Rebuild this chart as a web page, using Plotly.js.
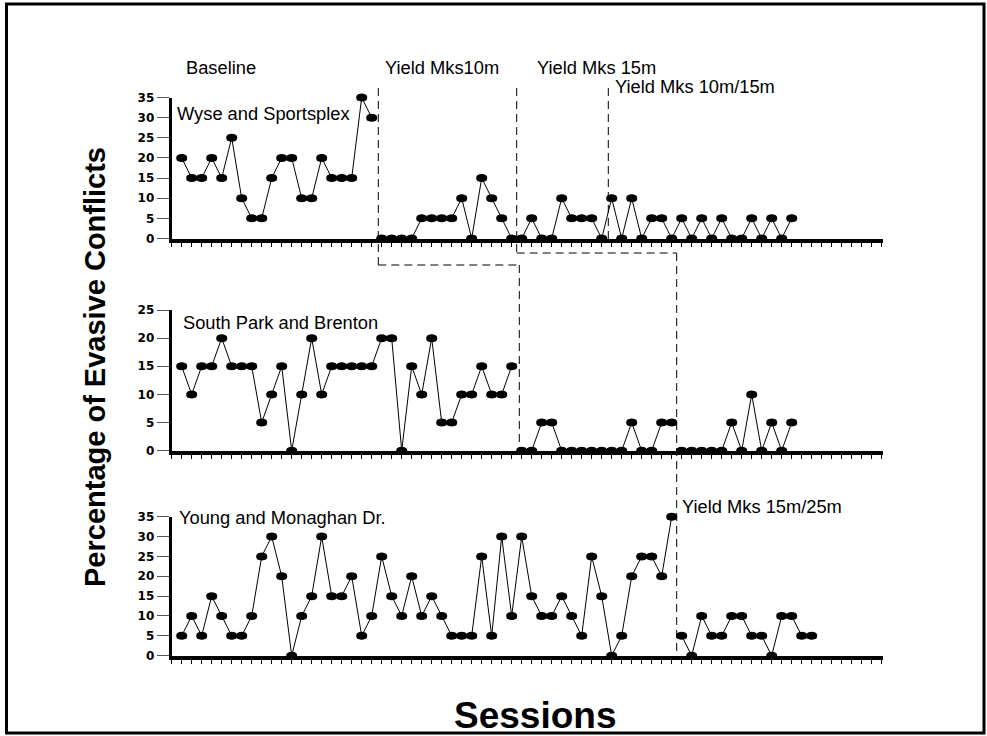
<!DOCTYPE html>
<html><head><meta charset="utf-8">
<script src="https://cdn.plot.ly/plotly-3.0.1.min.js"></script>
<style>html,body{margin:0;padding:0;background:#fff}#chart{width:987px;height:736px}</style>
</head><body><div id="chart"></div>
<script>
// ---- data (percentage of evasive conflicts per session) ----
const wyseValues = [20,15,15,20,15,25,10,5,5,15,20,20,10,10,20,15,15,15,35,30,
  0,0,0,0,5,5,5,5,10,0,15,10,5,0,
  0,5,0,0,10,5,5,5,0,10,0,10,0,5,5,0,5,0,5,0,5,0,0,5,0,5,0,5];
const wyseSegmentStarts = [1, 21, 35];
const southParkValues = [15,10,15,15,20,15,15,15,5,10,15,0,10,20,10,15,15,15,15,15,20,20,0,15,10,20,5,5,10,10,15,10,10,15,
  0,0,5,5,0,0,0,0,0,0,0,5,0,0,5,5,
  0,0,0,0,0,5,0,10,0,5,0,5];
const southParkSegmentStarts = [1, 35, 51];
const youngValues = [5,10,5,15,10,5,5,10,25,30,20,0,10,15,30,15,15,20,5,10,25,15,10,20,10,15,10,5,5,5,25,5,30,10,30,15,10,10,15,10,5,25,15,0,5,20,25,25,20,35,
  5,0,10,5,5,10,10,5,5,0,10,10,5,5];
const youngSegmentStarts = [1, 51];
const panelNames = ["Wyse and Sportsplex", "South Park and Brenton", "Young and Monaghan Dr."];
const phaseNames = ["Baseline", "Yield Mks10m", "Yield Mks 15m", "Yield Mks 10m/15m", "Yield Mks 15m/25m"];
const yMax = [35, 25, 35];
const xTitle = "Sessions";
const yTitle = "Percentage of Evasive Conflicts";

// ---- build traces ----
const W = 987, H = 736;
const px = v => v / W, py = v => 1 - v / H;
const panels = [
  {vals: wyseValues, starts: wyseSegmentStarts, ax: ''},
  {vals: southParkValues, starts: southParkSegmentStarts, ax: '2'},
  {vals: youngValues, starts: youngSegmentStarts, ax: '3'}
];
const traces = [];
const markerTraces = [];
panels.forEach(p => {
  const starts = p.starts.concat([p.vals.length + 1]);
  for (let s = 0; s < starts.length - 1; s++) {
    const xs = [], ys = [];
    for (let n = starts[s]; n < starts[s + 1]; n++) { xs.push(n); ys.push(p.vals[n - 1]); }
    traces.push({x: xs, y: ys, xaxis: 'x' + p.ax, yaxis: 'y' + p.ax, mode: 'lines',
      line: {color: '#000', width: 1}, cliponaxis: false, hoverinfo: 'skip', showlegend: false});
    [-0.2, 0, 0.2].forEach(d => {
      markerTraces.push({x: xs.map(v => v + d), y: ys, xaxis: 'x' + p.ax, yaxis: 'y' + p.ax, mode: 'markers',
        marker: {color: '#000', size: d === 0 ? 8 : 7, symbol: 'circle', line: {width: 0}}, cliponaxis: false,
        hoverinfo: 'skip', showlegend: false});
    });
  }
});

const xDomain = [px(171.7), px(883.3)];
const yDomains = [[py(238.5), py(97.5)], [py(450.7), py(310)], [py(655.7), py(516.7)]];
const layout = {
  width: W, height: H, margin: {l: 0, r: 0, t: 0, b: 0},
  paper_bgcolor: '#fff', plot_bgcolor: 'rgba(0,0,0,0)',
  font: {family: 'Liberation Sans, Arial, sans-serif', color: '#000'},
  showlegend: false, shapes: [], annotations: []
};
['', '2', '3'].forEach((a, i) => {
  layout['xaxis' + a] = {domain: xDomain, range: [0, 71.16], anchor: 'y' + a,
    showline: true, linewidth: 4, linecolor: '#000', ticks: 'outside', ticklen: 4, tickwidth: 1,
    tickcolor: '#000', tick0: 0, dtick: 1, showticklabels: false, showgrid: false, zeroline: false, fixedrange: true};
  layout['yaxis' + a] = {domain: yDomains[i], range: [0, yMax[i]], anchor: 'x' + a,
    showline: true, linewidth: 3, linecolor: '#000', ticks: 'outside', ticklen: 12, tickwidth: 1,
    tickcolor: '#555', tick0: 0, dtick: 5, showgrid: false, zeroline: false, fixedrange: true,
    tickfont: {family: 'DejaVu Sans, sans-serif', size: 12, weight: 'bold', color: '#000'}};
});

// phase-change dashed lines
const dash = {color: '#000', width: 1, dash: '8px,5px'};
const seg = (x0, y0, x1, y1) => ({type: 'line', xref: 'x', yref: 'paper', x0, y0: py(y0), x1, y1: py(y1), line: dash});
layout.shapes.push(
  seg(20.66, 88, 20.66, 265), seg(20.66, 265, 34.76, 265), seg(34.76, 265, 34.76, 451),
  seg(34.5, 88, 34.5, 253), seg(34.5, 253, 50.5, 253), seg(50.5, 253, 50.5, 656),
  seg(43.66, 88, 43.66, 239)
);
// outer frame
layout.shapes.push({type: 'rect', xref: 'paper', yref: 'paper', x0: px(6.5), x1: px(984), y0: py(733), y1: py(4),
  line: {color: '#000', width: 3}, fillcolor: 'rgba(0,0,0,0)'});

const note = (text, x, y, size) => ({text, xref: 'paper', yref: 'paper', x: px(x), y: py(y),
  xanchor: 'left', yanchor: 'middle', showarrow: false, font: {size: size || 18.3, color: '#000'}});
layout.annotations.push(
  note(phaseNames[0], 184, 67), note(phaseNames[1], 383, 67), note(phaseNames[2], 535, 67),
  note(phaseNames[3], 613, 86), note(phaseNames[4], 680, 506),
  note(panelNames[0], 175, 114), note(panelNames[1], 181, 322), note(panelNames[2], 177, 517),
  {text: '<b>' + yTitle + '</b>', xref: 'paper', yref: 'paper', x: px(95), y: py(367), textangle: -90,
    showarrow: false, xanchor: 'center', yanchor: 'middle', font: {size: 29, color: '#000'}},
  {text: '<b>' + xTitle + '</b>', xref: 'paper', yref: 'paper', x: px(535), y: py(715),
    showarrow: false, xanchor: 'center', yanchor: 'middle', font: {size: 37, color: '#000'}}
);

Plotly.newPlot('chart', traces.concat(markerTraces), layout, {staticPlot: true, displayModeBar: false});
</script></body></html>
